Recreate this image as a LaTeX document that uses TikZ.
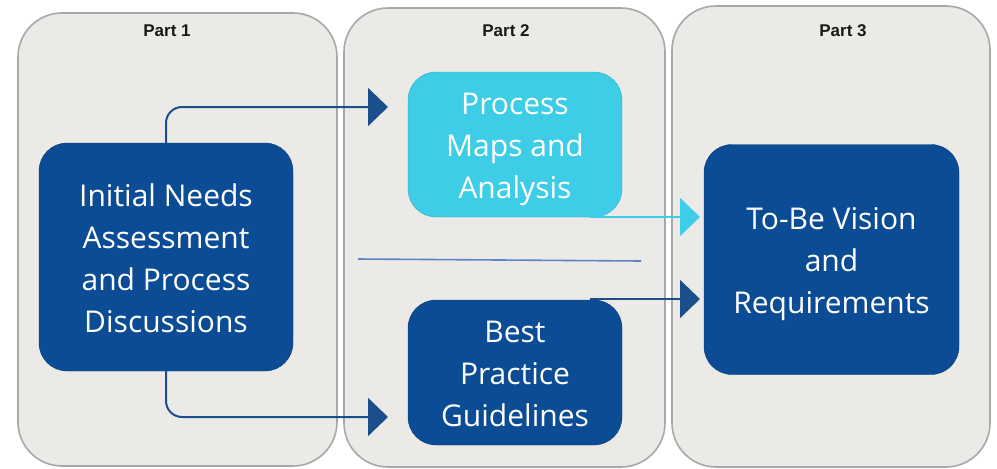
\documentclass[tikz,border=0pt]{standalone}
\usepackage{fontspec}
\newfontfamily\osans{Open Sans}
\newfontfamily\lsans{Liberation Sans}
\usetikzlibrary{arrows.meta}
\definecolor{dblue}{HTML}{0B4C94}
\definecolor{cyanb}{HTML}{3DCDE7}
\definecolor{panelfill}{HTML}{EBEAE7}
\definecolor{panelline}{HTML}{A8A8A8}
\definecolor{connblue}{HTML}{1A4F8C}
\definecolor{sepblue}{HTML}{5A86C4}
\newcommand{\boxtext}[1]{\raisebox{-4pt}[\height][\depth]{\begin{tabular}{@{}c@{}}#1\end{tabular}}}
\tikzset{
  panel/.style={draw=panelline, fill=panelfill, line width=1.6pt, rounded corners=44pt},
  parttitle/.style={font=\lsans\bfseries\fontsize{17}{19}\selectfont, text=black!90},
  bluebox/.style={draw=dblue!80!black, fill=dblue, rounded corners=28pt, text=white, align=center,
     font=\osans\fontsize{30}{42}\selectfont, inner sep=0pt},
  cyanbox/.style={bluebox, fill=cyanb, draw=cyanb!85!black},
  conn/.style={draw=connblue, line width=2pt, rounded corners=16pt, -{Triangle[length=20pt,width=38pt]}},
  cconn/.style={draw=cyanb, line width=2pt, -{Triangle[length=20pt,width=38pt]}},
}
\begin{document}
\begin{tikzpicture}[x=1pt,y=-1pt]
\useasboundingbox (0,0) rectangle (997,469);
\fill[white] (0,0) rectangle (997,469);
% panels
\draw[panel] (18,13) rectangle (337,466);
\draw[panel] (344,8) rectangle (665,467);
\draw[panel] (672,6) rectangle (990,467);
\node[parttitle] (p1) at (167,31) {Part 1};
\node[parttitle] (p2) at (506,31) {Part 2};
\node[parttitle] (p3) at (843,31) {Part 3};
% separator
\coordinate (s1) at (358,259);
\coordinate (s2) at (641,261);
\draw[sepblue, line width=1.6pt] (s1) -- (s2);
% boxes
\node[bluebox, minimum width=254pt, minimum height=228pt] (ina) at (166,257)
  {\boxtext{Initial Needs\\Assessment\\and Process\\Discussions}};
\node[cyanbox, minimum width=214pt, minimum height=145pt] (pm) at (515,144.5)
  {\boxtext{Process\\Maps and\\Analysis}};
\node[bluebox, minimum width=214pt, minimum height=145pt] (bp) at (515,372.5)
  {\boxtext{Best\\Practice\\Guidelines}};
\node[bluebox, minimum width=255pt, minimum height=230pt] (tb) at (831.5,259.5)
  {\boxtext{To-Be Vision\\and\\Requirements}};
% connectors
\coordinate (t1) at (388,107);
\coordinate (t2) at (388,417);
\draw[conn] (ina.north) |- (t1);
\draw[conn] (ina.south) |- (t2);
\coordinate (c1) at (590,217);
\coordinate (c2) at (700,217);
\draw[cconn] (c1) -- (c2);
\coordinate (d1) at (590,299);
\coordinate (d2) at (700,299);
\draw[conn] (d1) -- (d2);
\end{tikzpicture}
\end{document}
